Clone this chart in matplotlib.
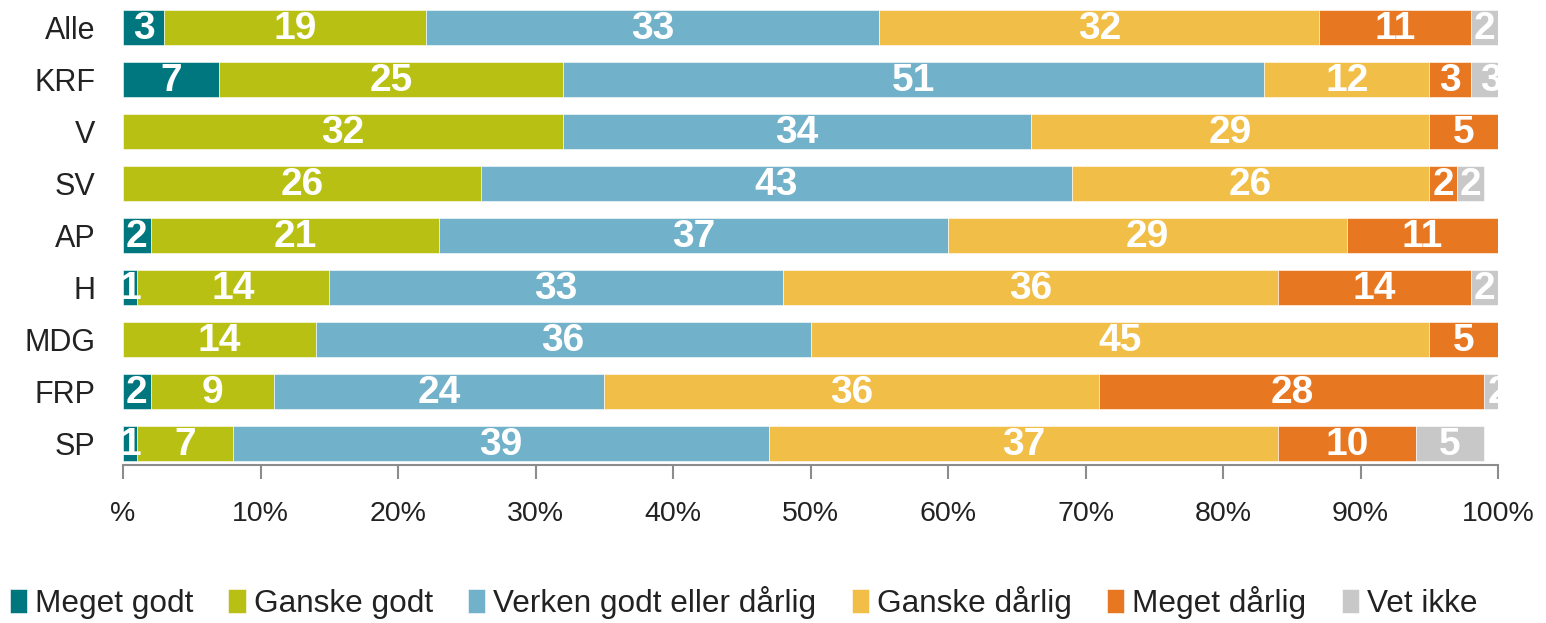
import numpy as np
import matplotlib.pyplot as plt

# data
parties = ['Alle', 'KRF', 'V', 'SV', 'AP', 'H', 'MDG', 'FRP', 'SP']
meget_godt = [3, 7, 0, 0, 2, 1, 0, 2, 1]
ganske_godt = [19, 25, 32, 26, 21, 14, 14, 9, 7]
verken = [33, 51, 34, 43, 37, 33, 36, 24, 39]
ganske_darlig = [32, 12, 29, 26, 29, 36, 45, 36, 37]
meget_darlig = [11, 3, 5, 2, 11, 14, 5, 28, 10]
vet_ikke = [2, 3, 0, 2, 0, 2, 0, 2, 5]

series = [meget_godt, ganske_godt, verken, ganske_darlig, meget_darlig, vet_ikke]
names = ['Meget godt', 'Ganske godt', 'Verken godt eller dårlig',
         'Ganske dårlig', 'Meget dårlig', 'Vet ikke']
colors = ['#00777F', '#B8C113', '#71B1C9', '#F1BE48', '#E87722', '#C8C8C8']
xticks = [0, 10, 20, 30, 40, 50, 60, 70, 80, 90, 100]
xticklabels = ['%', '10%', '20%', '30%', '40%', '50%', '60%', '70%', '80%', '90%', '100%']

plt.rcParams['font.family'] = ['Liberation Sans', 'DejaVu Sans']

fig = plt.figure(figsize=(15.46, 6.23), dpi=100)
ax = fig.add_axes([0.0796, 0.2536, 0.8894, 0.7444])

y = np.arange(len(parties))
left = np.zeros(len(parties))
handles = []
for vals, name, col in zip(series, names, colors):
    vals = np.array(vals, dtype=float)
    h = ax.barh(y, vals, left=left, height=0.67, color=col,
                edgecolor='white', linewidth=0.4, label=name)
    handles.append(h)
    for yi, (l, v) in enumerate(zip(left, vals)):
        if v > 0:
            ax.text(l + v / 2, yi + 0.04, '%d' % v, ha='center', va='center',
                    color='white', fontsize=28, fontweight='bold', clip_on=True)
    left += vals

ax.set_xlim(0, 100)
ax.set_ylim(8.42, -0.5)
ax.set_yticks(y)
ax.set_yticklabels(parties, fontsize=22, color='#222222')
ax.tick_params(axis='y', length=0, pad=20)
ax.set_xticks(xticks)
ax.set_xticklabels(xticklabels, fontsize=20.5, color='#222222')
ax.tick_params(axis='x', length=10, width=1.5, color='#8C8C8C', pad=16)
for s in ['top', 'right', 'left']:
    ax.spines[s].set_visible(False)
ax.spines['bottom'].set_color('#8C8C8C')
ax.spines['bottom'].set_linewidth(1.5)

fig.legend(handles=handles, loc='lower left', bbox_to_anchor=(-0.002, -0.014),
           ncol=6, frameon=False, fontsize=22.7, handlelength=0.55,
           handleheight=0.8, handletextpad=0.25, columnspacing=1.12,
           borderaxespad=0.0, labelcolor='#222222')

fig.savefig('out.png', dpi=100)
